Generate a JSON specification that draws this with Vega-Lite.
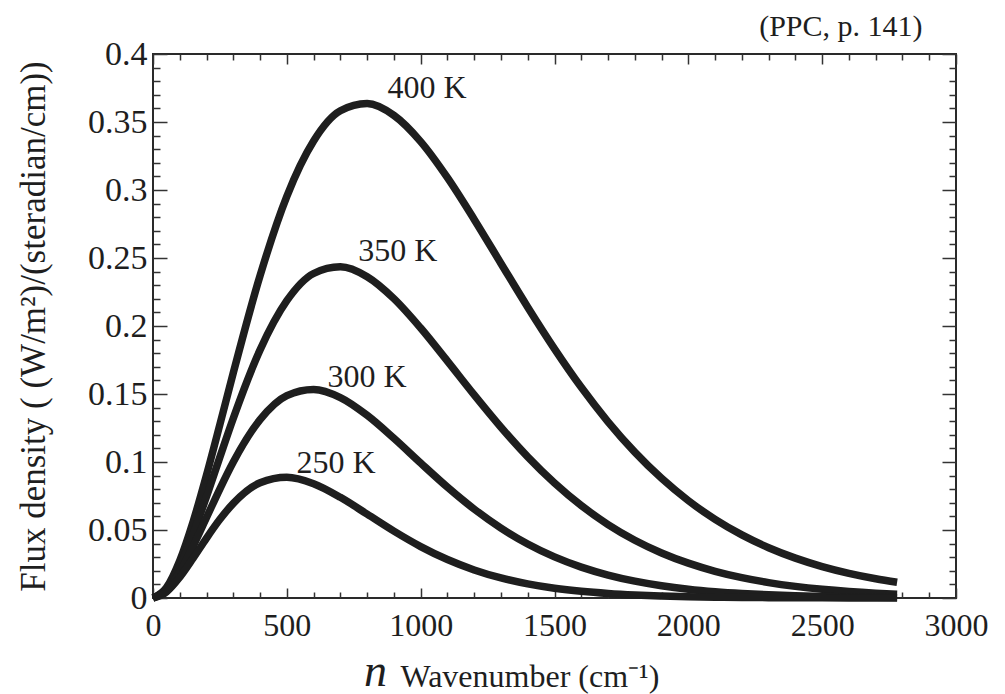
{
  "$schema": "https://vega.github.io/schema/vega-lite/v6.json",
  "width": 803,
  "height": 544,
  "autosize": {"type": "none"},
  "padding": {"left": 153, "top": 54, "right": 49, "bottom": 96},
  "background": "white",
  "datasets": {
    "curves": [
      {"nu": 0, "T": "400 K", "B": 0}, {"nu": 50, "T": "400 K", "B": 0.00756}, {"nu": 100, "T": "400 K", "B": 0.02751}, {"nu": 150, "T": "400 K", "B": 0.0562}, {"nu": 200, "T": "400 K", "B": 0.09046}, {"nu": 250, "T": "400 K", "B": 0.12765}, {"nu": 300, "T": "400 K", "B": 0.16558}, {"nu": 400, "T": "400 K", "B": 0.23704}, {"nu": 500, "T": "400 K", "B": 0.29536}, {"nu": 600, "T": "400 K", "B": 0.33601}, {"nu": 700, "T": "400 K", "B": 0.35822}, {"nu": 800, "T": "400 K", "B": 0.36357}, {"nu": 900, "T": "400 K", "B": 0.35486}, {"nu": 1000, "T": "400 K", "B": 0.33559}, {"nu": 1100, "T": "400 K", "B": 0.30907}, {"nu": 1200, "T": "400 K", "B": 0.27837}, {"nu": 1300, "T": "400 K", "B": 0.24601}, {"nu": 1400, "T": "400 K", "B": 0.21382}, {"nu": 1500, "T": "400 K", "B": 0.18321}, {"nu": 1600, "T": "400 K", "B": 0.15491}, {"nu": 1700, "T": "400 K", "B": 0.12957}, {"nu": 1800, "T": "400 K", "B": 0.10726}, {"nu": 1900, "T": "400 K", "B": 0.08799}, {"nu": 2000, "T": "400 K", "B": 0.0716}, {"nu": 2100, "T": "400 K", "B": 0.05783}, {"nu": 2200, "T": "400 K", "B": 0.04639}, {"nu": 2300, "T": "400 K", "B": 0.03699}, {"nu": 2400, "T": "400 K", "B": 0.02933}, {"nu": 2500, "T": "400 K", "B": 0.02314}, {"nu": 2600, "T": "400 K", "B": 0.01816}, {"nu": 2700, "T": "400 K", "B": 0.01419}, {"nu": 2780, "T": "400 K", "B": 0.01162},
      {"nu": 0, "T": "350 K", "B": 0}, {"nu": 50, "T": "350 K", "B": 0.006525}, {"nu": 100, "T": "350 K", "B": 0.02343}, {"nu": 150, "T": "350 K", "B": 0.04715}, {"nu": 200, "T": "350 K", "B": 0.0747}, {"nu": 250, "T": "350 K", "B": 0.10369}, {"nu": 300, "T": "350 K", "B": 0.1322}, {"nu": 400, "T": "350 K", "B": 0.18245}, {"nu": 500, "T": "350 K", "B": 0.2186}, {"nu": 600, "T": "350 K", "B": 0.23862}, {"nu": 700, "T": "350 K", "B": 0.24357}, {"nu": 800, "T": "350 K", "B": 0.23626}, {"nu": 900, "T": "350 K", "B": 0.22014}, {"nu": 1000, "T": "350 K", "B": 0.1985}, {"nu": 1100, "T": "350 K", "B": 0.17416}, {"nu": 1200, "T": "350 K", "B": 0.14933}, {"nu": 1300, "T": "350 K", "B": 0.12556}, {"nu": 1400, "T": "350 K", "B": 0.10378}, {"nu": 1500, "T": "350 K", "B": 0.08453}, {"nu": 1600, "T": "350 K", "B": 0.06796}, {"nu": 1700, "T": "350 K", "B": 0.05402}, {"nu": 1800, "T": "350 K", "B": 0.04249}, {"nu": 1900, "T": "350 K", "B": 0.03313}, {"nu": 2000, "T": "350 K", "B": 0.02561}, {"nu": 2100, "T": "350 K", "B": 0.01965}, {"nu": 2200, "T": "350 K", "B": 0.01497}, {"nu": 2300, "T": "350 K", "B": 0.01134}, {"nu": 2400, "T": "350 K", "B": 0.00854}, {"nu": 2500, "T": "350 K", "B": 0.0064}, {"nu": 2600, "T": "350 K", "B": 0.00477}, {"nu": 2700, "T": "350 K", "B": 0.00354}, {"nu": 2780, "T": "350 K", "B": 0.00279},
      {"nu": 0, "T": "300 K", "B": 0}, {"nu": 50, "T": "300 K", "B": 0.005494}, {"nu": 100, "T": "300 K", "B": 0.01935}, {"nu": 150, "T": "300 K", "B": 0.03816}, {"nu": 200, "T": "300 K", "B": 0.05919}, {"nu": 250, "T": "300 K", "B": 0.08032}, {"nu": 300, "T": "300 K", "B": 0.1}, {"nu": 400, "T": "300 K", "B": 0.13118}, {"nu": 500, "T": "300 K", "B": 0.14886}, {"nu": 600, "T": "300 K", "B": 0.15338}, {"nu": 700, "T": "300 K", "B": 0.14742}, {"nu": 800, "T": "300 K", "B": 0.13437}, {"nu": 900, "T": "300 K", "B": 0.11744}, {"nu": 1000, "T": "300 K", "B": 0.09923}, {"nu": 1100, "T": "300 K", "B": 0.0815}, {"nu": 1200, "T": "300 K", "B": 0.06535}, {"nu": 1300, "T": "300 K", "B": 0.05139}, {"nu": 1400, "T": "300 K", "B": 0.0397}, {"nu": 1500, "T": "300 K", "B": 0.0302}, {"nu": 1600, "T": "300 K", "B": 0.0227}, {"nu": 1700, "T": "300 K", "B": 0.01685}, {"nu": 1800, "T": "300 K", "B": 0.01237}, {"nu": 1900, "T": "300 K", "B": 0.00901}, {"nu": 2000, "T": "300 K", "B": 0.0065}, {"nu": 2100, "T": "300 K", "B": 0.00466}, {"nu": 2200, "T": "300 K", "B": 0.00332}, {"nu": 2300, "T": "300 K", "B": 0.00235}, {"nu": 2400, "T": "300 K", "B": 0.00165}, {"nu": 2500, "T": "300 K", "B": 0.00116}, {"nu": 2600, "T": "300 K", "B": 0.000804}, {"nu": 2700, "T": "300 K", "B": 0.000558}, {"nu": 2780, "T": "300 K", "B": 0.000415},
      {"nu": 0, "T": "250 K", "B": 0}, {"nu": 50, "T": "250 K", "B": 0.004466}, {"nu": 100, "T": "250 K", "B": 0.01531}, {"nu": 150, "T": "250 K", "B": 0.02932}, {"nu": 200, "T": "250 K", "B": 0.04408}, {"nu": 250, "T": "250 K", "B": 0.05787}, {"nu": 300, "T": "250 K", "B": 0.06958}, {"nu": 400, "T": "250 K", "B": 0.08474}, {"nu": 500, "T": "250 K", "B": 0.08876}, {"nu": 600, "T": "250 K", "B": 0.08407}, {"nu": 700, "T": "250 K", "B": 0.07403}, {"nu": 800, "T": "250 K", "B": 0.06166}, {"nu": 900, "T": "250 K", "B": 0.04916}, {"nu": 1000, "T": "250 K", "B": 0.03782}, {"nu": 1100, "T": "250 K", "B": 0.02828}, {"nu": 1200, "T": "250 K", "B": 0.02063}, {"nu": 1300, "T": "250 K", "B": 0.01474}, {"nu": 1400, "T": "250 K", "B": 0.01036}, {"nu": 1500, "T": "250 K", "B": 0.00716}, {"nu": 1600, "T": "250 K", "B": 0.00489}, {"nu": 1700, "T": "250 K", "B": 0.0033}, {"nu": 1800, "T": "250 K", "B": 0.0022}, {"nu": 1900, "T": "250 K", "B": 0.00146}, {"nu": 2000, "T": "250 K", "B": 0.000955}, {"nu": 2100, "T": "250 K", "B": 0.00062}, {"nu": 2200, "T": "250 K", "B": 0.000402}, {"nu": 2300, "T": "250 K", "B": 0.00026}, {"nu": 2400, "T": "250 K", "B": 0.000165}, {"nu": 2500, "T": "250 K", "B": 0.000105}, {"nu": 2600, "T": "250 K", "B": 0.000066}, {"nu": 2700, "T": "250 K", "B": 0.000042}, {"nu": 2780, "T": "250 K", "B": 0.000029}
    ],
    "labels": [
      {"nu": 1024, "B": 0.375, "label": "400 K"},
      {"nu": 915, "B": 0.255, "label": "350 K"},
      {"nu": 800, "B": 0.1625, "label": "300 K"},
      {"nu": 684, "B": 0.0993, "label": "250 K"}
    ]
  },
  "layer": [
    {
      "data": {"name": "curves"},
      "mark": {"type": "line", "interpolate": "monotone", "strokeWidth": 7.5, "color": "#1e1e1e", "strokeCap": "butt", "strokeJoin": "round"},
      "encoding": {
        "x": {
          "field": "nu", "type": "quantitative",
          "scale": {"domain": [0, 3000], "nice": false, "zero": false},
          "axis": {
            "orient": "bottom",
            "values": [0, 100, 200, 300, 400, 500, 600, 700, 800, 900, 1000, 1100, 1200, 1300, 1400, 1500, 1600, 1700, 1800, 1900, 2000, 2100, 2200, 2300, 2400, 2500, 2600, 2700, 2800, 2900, 3000],
            "format": "d",
            "labelExpr": "datum.value % 500 === 0 ? datum.label : ''",
            "tickSize": {"condition": {"test": "datum.value % 500 === 0", "value": -10}, "value": -6},
            "labelPadding": 22,
            "labelFlush": false,
            "labelOverlap": false,
            "title": "Wavenumber (cm⁻¹)",
            "titleX": 247,
            "titleY": 88,
            "titleAlign": "left",
            "titleAnchor": null,
            "titleBaseline": "alphabetic",
            "titleFontSize": 32
          }
        },
        "y": {
          "field": "B", "type": "quantitative",
          "scale": {"domain": [0, 0.4], "nice": false},
          "axis": {
            "orient": "left",
            "values": [0, 0.01, 0.02, 0.03, 0.04, 0.05, 0.06, 0.07, 0.08, 0.09, 0.1, 0.11, 0.12, 0.13, 0.14, 0.15, 0.16, 0.17, 0.18, 0.19, 0.2, 0.21, 0.22, 0.23, 0.24, 0.25, 0.26, 0.27, 0.28, 0.29, 0.3, 0.31, 0.32, 0.33, 0.34, 0.35, 0.36, 0.37, 0.38, 0.39, 0.4],
            "labelExpr": "abs(datum.value*20 - round(datum.value*20)) < 0.000001 ? format(datum.value, '~g') : ''",
            "tickSize": {"condition": {"test": "abs(datum.value*20 - round(datum.value*20)) < 0.000001", "value": -14}, "value": -7},
            "labelPadding": 20,
            "labelFontSize": 34,
            "labelFlush": false,
            "labelOverlap": false,
            "title": "Flux density ( (W/m²)/(steradian/cm))",
            "titleX": -109,
            "titleY": 272,
            "titleAngle": 270,
            "titleAlign": "center",
            "titleAnchor": null,
            "titleBaseline": "alphabetic",
            "titleFontSize": 35
          }
        },
        "detail": {"field": "T", "type": "nominal"}
      }
    },
    {
      "data": {"name": "labels"},
      "mark": {"type": "text", "font": "Liberation Serif", "fontSize": 32, "color": "#1e1e1e", "align": "center", "baseline": "middle"},
      "encoding": {
        "x": {
          "field": "nu", "type": "quantitative",
          "axis": {
            "orient": "top",
            "values": [0, 100, 200, 300, 400, 500, 600, 700, 800, 900, 1000, 1100, 1200, 1300, 1400, 1500, 1600, 1700, 1800, 1900, 2000, 2100, 2200, 2300, 2400, 2500, 2600, 2700, 2800, 2900, 3000],
            "labels": false,
            "tickSize": {"condition": {"test": "datum.value % 500 === 0", "value": -10}, "value": -6},
            "title": "(PPC, p. 141)",
            "titleX": 769,
            "titleY": -19,
            "titleAlign": "right",
            "titleAnchor": null,
            "titleBaseline": "alphabetic",
            "titleFontSize": 30
          }
        },
        "y": {
          "field": "B", "type": "quantitative",
          "axis": {
            "orient": "right",
            "values": [0, 0.01, 0.02, 0.03, 0.04, 0.05, 0.06, 0.07, 0.08, 0.09, 0.1, 0.11, 0.12, 0.13, 0.14, 0.15, 0.16, 0.17, 0.18, 0.19, 0.2, 0.21, 0.22, 0.23, 0.24, 0.25, 0.26, 0.27, 0.28, 0.29, 0.3, 0.31, 0.32, 0.33, 0.34, 0.35, 0.36, 0.37, 0.38, 0.39, 0.4],
            "labels": false,
            "tickSize": {"condition": {"test": "abs(datum.value*20 - round(datum.value*20)) < 0.000001", "value": -14}, "value": -7},
            "title": "n",
            "titleX": -581,
            "titleY": 631,
            "titleAngle": 0,
            "titleAlign": "center",
            "titleAnchor": null,
            "titleBaseline": "alphabetic",
            "titleFontStyle": "italic",
            "titleFontSize": 46
          }
        },
        "text": {"field": "label", "type": "nominal"}
      }
    }
  ],
  "resolve": {"axis": {"x": "independent", "y": "independent"}},
  "config": {
    "view": {"stroke": "#2a2a2a", "strokeWidth": 2},
    "axis": {
      "grid": false,
      "domain": false,
      "tickColor": "#333",
      "tickWidth": 1.5,
      "labelFont": "Liberation Serif",
      "labelFontSize": 32,
      "labelColor": "#1e1e1e",
      "titleFont": "Liberation Serif",
      "titleFontWeight": "normal",
      "titleColor": "#1e1e1e"
    }
  }
}
